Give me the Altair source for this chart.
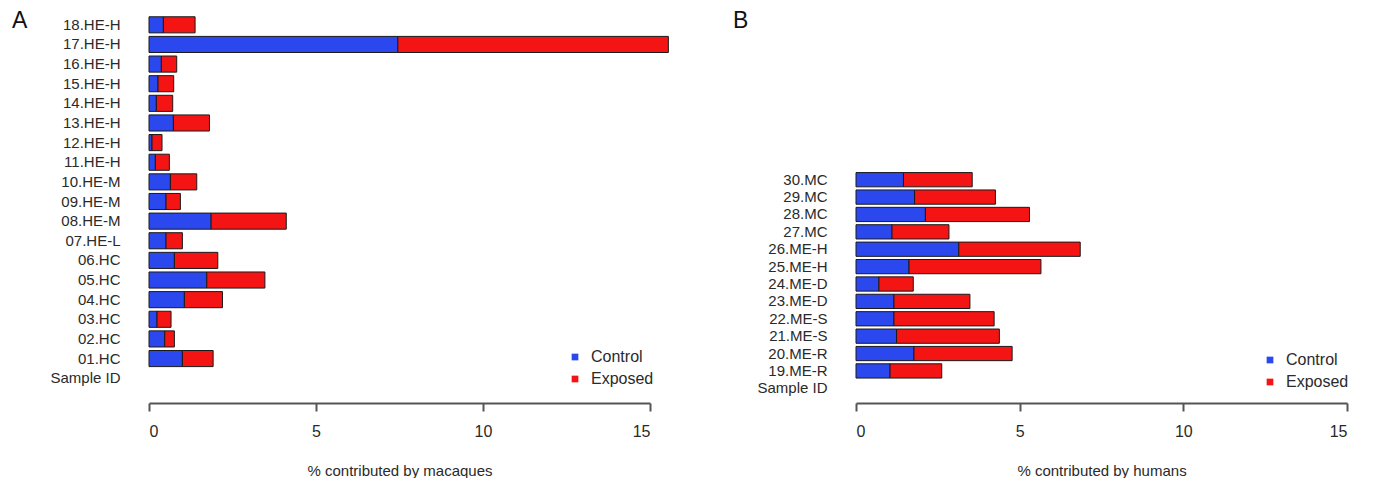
import altair as alt
import pandas as pd

# Panel A (macaques)
ids_a = ["18.HE-H", "17.HE-H", "16.HE-H", "15.HE-H", "14.HE-H", "13.HE-H", "12.HE-H",
         "11.HE-H", "10.HE-M", "09.HE-M", "08.HE-M", "07.HE-L", "06.HC", "05.HC",
         "04.HC", "03.HC", "02.HC", "01.HC", "Sample ID"]
control_a = [0.43, 7.45, 0.37, 0.27, 0.22, 0.73, 0.09, 0.19, 0.64, 0.51, 1.86, 0.51,
             0.76, 1.73, 1.06, 0.24, 0.47, 1.00, 0]
exposed_a = [0.95, 8.10, 0.46, 0.47, 0.49, 1.08, 0.30, 0.42, 0.79, 0.43, 2.25, 0.49,
             1.30, 1.74, 1.14, 0.42, 0.29, 0.92, 0]

# Panel B (humans)
ids_b = ["30.MC", "29.MC", "28.MC", "27.MC", "26.ME-H", "25.ME-H", "24.ME-D",
         "23.ME-D", "22.ME-S", "21.ME-S", "20.ME-R", "19.ME-R", "Sample ID"]
control_b = [1.45, 1.79, 2.12, 1.10, 3.14, 1.62, 0.70, 1.16, 1.16, 1.24, 1.77, 1.04, 0]
exposed_b = [2.10, 2.47, 3.18, 1.74, 3.71, 4.03, 1.05, 2.32, 3.06, 3.14, 3.00, 1.58, 0]

groups = ["Control", "Exposed"]
colors = ["#2b48ef", "#f41414"]
x_ticks = [0, 5, 10, 15]

FONT = "Liberation Sans"


def frame(ids, ctrl, expo):
    rows = []
    for i, c, e in zip(ids, ctrl, expo):
        if c + e <= 0:
            continue
        rows.append({"id": i, "group": "Control", "start": 0, "end": c})
        rows.append({"id": i, "group": "Exposed", "start": c, "end": c + e})
    return pd.DataFrame(rows)


def panel(ids, ctrl, expo, letter, xtitle, width, height, yrange, xoffset,
          legx, legy, letter_x):
    df = frame(ids, ctrl, expo)
    if yrange is not None:
        yscale = alt.Scale(domain=ids, paddingInner=0.18, paddingOuter=0.09, range=yrange)
    else:
        yscale = alt.Scale(domain=ids, paddingInner=0.18, paddingOuter=0.09)
    bars = alt.Chart(df).mark_bar(stroke="#1a1a1a", strokeWidth=1, clip=False).encode(
        y=alt.Y("id:N", scale=yscale, sort=ids,
                axis=alt.Axis(title=None, ticks=False, domain=False, labelFontSize=15,
                              labelFont=FONT, labelColor="#2a2a2a", labelPadding=29,
                              minExtent=100, maxExtent=100)),
        x=alt.X("start:Q", scale=alt.Scale(domain=[0, 15], nice=False, zero=True),
                axis=alt.Axis(values=x_ticks, title=xtitle, grid=False, offset=xoffset,
                              tickSize=8, tickColor="#555", tickWidth=2,
                              domainColor="#555", domainWidth=2,
                              labelFontSize=16, labelFont=FONT, labelColor="#2a2a2a",
                              labelPadding=12, titleFontSize=15, titleFont=FONT,
                              titleFontWeight="normal", titleColor="#2a2a2a",
                              titlePadding=24)),
        x2="end:Q",
        color=alt.Color("group:N", scale=alt.Scale(domain=groups, range=colors),
                        legend=alt.Legend(title=None, orient="none", legendX=legx,
                                          legendY=legy, symbolType="square",
                                          symbolSize=45, symbolStrokeWidth=0,
                                          labelFontSize=16, labelFont=FONT,
                                          labelColor="#2a2a2a", rowPadding=6,
                                          labelOffset=8)),
    )
    lab = alt.Chart(pd.DataFrame({"t": [letter]})).mark_text(
        fontSize=23, font=FONT, align="left", baseline="top", color="#111"
    ).encode(text="t:N", x=alt.value(letter_x), y=alt.value(-5))
    return alt.layer(bars, lab).properties(width=width, height=height)


pa = panel(ids_a, control_a, exposed_a, "A", "% contributed by macaques",
           501, 373, None, 15, 418, 334, -137)
pb = panel(ids_b, control_b, exposed_b, "B", "% contributed by humans",
           491, 382, [156, 382], 6, 406, 337, -123)

chart = alt.hconcat(pa, pb, spacing=206, bounds="flush").resolve_scale(
    color="independent", y="independent", x="independent"
).resolve_legend(color="independent").properties(
    padding={"left": 4, "top": 2, "right": 0, "bottom": 0}, background="white"
).configure_view(strokeWidth=0, stroke=None)

chart.save("out.html", embed_options={"renderer": "svg", "actions": False})
